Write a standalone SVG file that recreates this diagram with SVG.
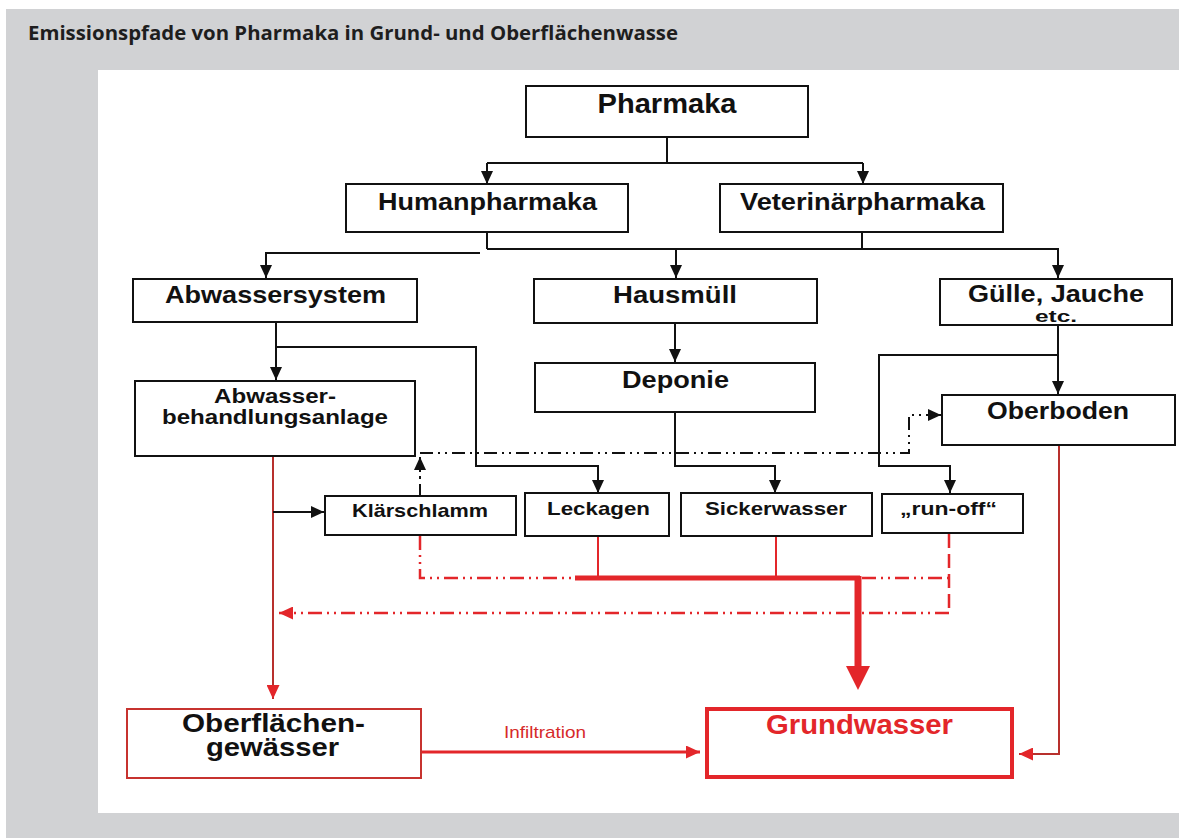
<svg xmlns="http://www.w3.org/2000/svg" width="1179" height="838" viewBox="0 0 1179 838">
<style>
.box{fill:#fff;stroke:#111;stroke-width:2}
.t{font-family:"Liberation Sans",Arial,sans-serif;font-weight:bold;text-anchor:middle;fill:#111}
.ln{fill:none;stroke:#111;stroke-width:2}
.dd{fill:none;stroke:#111;stroke-width:2;stroke-dasharray:13 5 2 5 2 5}
.rdd{fill:none;stroke:#e3262a;stroke-width:2.5;stroke-dasharray:14 5 2 5 2 5}
.rthin{fill:none;stroke:#b8302d;stroke-width:2}
.red{fill:none;stroke:#e3262a}
</style>
<defs>
<marker id="ab" viewBox="0 0 13 12" refX="13" refY="6" markerWidth="13" markerHeight="12" markerUnits="userSpaceOnUse" orient="auto"><path d="M0,0 L13,6 L0,12 z" fill="#111"/></marker>
<marker id="ar" viewBox="0 0 14 13" refX="14" refY="6.5" markerWidth="14" markerHeight="13" markerUnits="userSpaceOnUse" orient="auto"><path d="M0,0 L14,6.5 L0,13 z" fill="#e3262a"/></marker>
</defs>
<rect x="0" y="0" width="1179" height="838" fill="#fff"/>
<rect x="6" y="9" width="1173" height="829" fill="#d1d2d4"/>
<rect x="98" y="70" width="1081" height="743" fill="#fff"/>
<text x="28" y="40" font-family="'Open Sans',sans-serif" font-weight="700" font-size="19" fill="#1e1e1e" textLength="650" lengthAdjust="spacingAndGlyphs">Emissionspfade von Pharmaka in Grund- und Oberflächenwasse</text>

<g id="connectors">
<path class="ln" d="M667,137 V163 M487,163 H863"/>
<path class="ln" d="M487,163 V184" marker-end="url(#ab)"/>
<path class="ln" d="M863,163 V184" marker-end="url(#ab)"/>
<path class="ln" d="M487,232 V249 M862,232 V249"/>
<path class="ln" d="M487,249 H1058 V278" marker-end="url(#ab)"/>
<path class="ln" d="M676,249 V278" marker-end="url(#ab)"/>
<path class="ln" d="M480,253 H266 V278" marker-end="url(#ab)"/>
<path class="ln" d="M276,322 V380" marker-end="url(#ab)"/>
<path class="ln" d="M276,347 H476 V466 H598 V493" marker-end="url(#ab)"/>
<path class="ln" d="M675,323 V362" marker-end="url(#ab)"/>
<path class="ln" d="M675,412 V466 H775 V493" marker-end="url(#ab)"/>
<path class="ln" d="M1058,325 V394" marker-end="url(#ab)"/>
<path class="ln" d="M1058,355 H879 V466 H950 V493" marker-end="url(#ab)"/>
<path class="rthin" d="M273,456 V699" marker-end="url(#ar)"/>
<path class="ln" d="M273,512 H324" marker-end="url(#ab)"/>
<path class="ln" d="M420,495 V484 M420,479 V476 M420,472 V470" />
<path class="ln" d="M420,468 V457" marker-end="url(#ab)"/>
<path class="dd" d="M420,453 H909 V415 H930"/>
<path class="ln" d="M928,415 H941" marker-end="url(#ab)"/>
<path class="rdd" d="M420,536 V578 H577"/>
<path class="red" stroke-width="5" d="M575,578 H860"/>
<path class="red" stroke-width="2" d="M598,536 V578 M776,536 V578"/>
<path class="red" stroke-width="7" d="M858,576 V668"/>
<polygon points="846,666 870,666 858,690" fill="#e3262a"/>
<path class="rdd" d="M862,578 H949"/>
<path class="red" stroke-width="2.5" stroke-dasharray="14 6" d="M949,534 V613"/>
<path class="rdd" d="M949,613 H279" marker-end="url(#ar)"/>
<path class="rthin" d="M1059,445 V754 H1019" marker-end="url(#ar)"/>
<path class="red" stroke-width="3" d="M421,752 H700" marker-end="url(#ar)"/>
<text x="545" y="738" font-family="'Liberation Sans',Arial,sans-serif" font-size="17" fill="#d62a2a" text-anchor="middle" textLength="82" lengthAdjust="spacingAndGlyphs">Infiltration</text>
</g>

<g id="pharmaka"><rect class="box" x="526" y="86" width="282" height="51"/><text class="t" x="667" y="113" font-size="28" textLength="139" lengthAdjust="spacingAndGlyphs">Pharmaka</text></g>
<g id="humanpharmaka"><rect class="box" x="346" y="184" width="282" height="48"/><text class="t" x="487.5" y="210" font-size="24" textLength="219" lengthAdjust="spacingAndGlyphs">Humanpharmaka</text></g>
<g id="veterinaerpharmaka"><rect class="box" x="720" y="184" width="283" height="48"/><text class="t" x="862.5" y="210" font-size="24" textLength="245" lengthAdjust="spacingAndGlyphs">Veterinärpharmaka</text></g>
<g id="abwassersystem"><rect class="box" x="133" y="279" width="284" height="43"/><text class="t" x="275.5" y="303" font-size="24" textLength="221" lengthAdjust="spacingAndGlyphs">Abwassersystem</text></g>
<g id="hausmuell"><rect class="box" x="534" y="279" width="283" height="44"/><text class="t" x="675" y="303" font-size="24" textLength="124" lengthAdjust="spacingAndGlyphs">Hausmüll</text></g>
<g id="guelle"><rect class="box" x="940" y="279" width="232" height="46"/><text class="t" x="1056" y="302" font-size="23" textLength="176" lengthAdjust="spacingAndGlyphs">Gülle, Jauche</text><text class="t" x="1056" y="322" font-size="16" textLength="42" lengthAdjust="spacingAndGlyphs">etc.</text></g>
<g id="abwasserbehandlungsanlage"><rect class="box" x="135" y="381" width="280" height="75"/><text class="t" x="275" y="403" font-size="21" textLength="122" lengthAdjust="spacingAndGlyphs">Abwasser-</text><text class="t" x="275" y="424" font-size="21" textLength="226" lengthAdjust="spacingAndGlyphs">behandlungsanlage</text></g>
<g id="deponie"><rect class="box" x="535" y="363" width="280" height="49"/><text class="t" x="675.5" y="388" font-size="24" textLength="107" lengthAdjust="spacingAndGlyphs">Deponie</text></g>
<g id="oberboden"><rect class="box" x="942" y="395" width="233" height="50"/><text class="t" x="1058" y="419" font-size="24" textLength="142" lengthAdjust="spacingAndGlyphs">Oberboden</text></g>
<g id="klaerschlamm"><rect class="box" x="325" y="496" width="191" height="39"/><text class="t" x="420" y="517" font-size="19" textLength="136" lengthAdjust="spacingAndGlyphs">Klärschlamm</text></g>
<g id="leckagen"><rect class="box" x="525" y="493" width="144" height="43"/><text class="t" x="598.5" y="515" font-size="19" textLength="103" lengthAdjust="spacingAndGlyphs">Leckagen</text></g>
<g id="sickerwasser"><rect class="box" x="681" y="493" width="191" height="43"/><text class="t" x="776" y="515" font-size="19" textLength="142" lengthAdjust="spacingAndGlyphs">Sickerwasser</text></g>
<g id="runoff"><rect class="box" x="882" y="494" width="141" height="39"/><text class="t" x="948.5" y="515" font-size="19" textLength="97" lengthAdjust="spacingAndGlyphs">„run-off“</text></g>
<g id="oberflaechengewaesser"><rect x="127" y="709" width="294" height="69" fill="#fff" stroke="#c7332f" stroke-width="2"/><text class="t" x="273.5" y="732" font-size="25" textLength="183" lengthAdjust="spacingAndGlyphs">Oberflächen-</text><text class="t" x="272.5" y="756" font-size="25" textLength="133" lengthAdjust="spacingAndGlyphs">gewässer</text></g>
<g id="grundwasser"><rect x="707" y="709" width="305" height="68" fill="#fff" stroke="#e3262a" stroke-width="4"/><text class="t" x="859.5" y="734" font-size="27" style="fill:#e3262a" textLength="187" lengthAdjust="spacingAndGlyphs">Grundwasser</text></g>
</svg>
